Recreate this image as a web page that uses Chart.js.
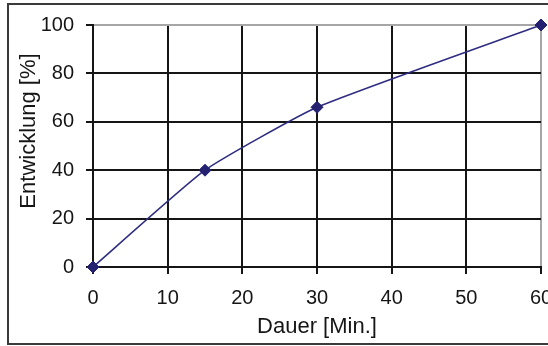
<!DOCTYPE html>
<html lang="de">
<head>
<meta charset="utf-8">
<title>Entwicklung über die Dauer</title>
<script src="https://cdn.jsdelivr.net/npm/chart.js@4/dist/chart.umd.min.js"></script>
<style>
  body { margin: 0; background: #fff; overflow: hidden; }
  canvas { display: block; }
</style>
</head>
<body>
<canvas id="entwicklungChart" width="548" height="346"></canvas>
<script>
// Messwerte: Dauer in Minuten, Entwicklung in Prozent
const dauer = [0, 15, 30, 60];
const entwicklung = [0, 40, 66, 100];

// Achsenbeschriftung
const xTicks = [0, 10, 20, 30, 40, 50, 60];
const yTicks = [0, 20, 40, 60, 80, 100];
const xTitel = "Dauer [Min.]";
const yTitel = "Entwicklung [%]";

const textFarbe = "#151515";
const linienFarbe = "#2e2c80";
const punktFarbe = "#232170";

// Rahmen um das ganze Diagramm
const rahmen = {
  id: "rahmen",
  beforeDraw(chart) {
    const c = chart.ctx;
    c.save();
    c.strokeStyle = "#3a3a3a";
    c.lineWidth = 2;
    c.strokeRect(8, 4, 600, 340);
    c.restore();
  },
  afterDraw(chart) {
    // y-Achsentitel, gedreht
    const a = chart.chartArea;
    const c = chart.ctx;
    c.save();
    c.fillStyle = textFarbe;
    c.font = "22px 'Liberation Sans', Arial, sans-serif";
    c.textAlign = "center";
    c.textBaseline = "middle";
    c.translate(a.left - 64, (a.top + a.bottom) / 2 - 15);
    c.rotate(-Math.PI / 2);
    c.fillText(yTitel, 0, 0);
    c.restore();
  },
};

function gitterFarbe(letzterWert) {
  return (ctx) => (ctx.tick && ctx.tick.value === letzterWert ? "#a6a6a6" : "#151515");
}

const ctx = document.getElementById("entwicklungChart").getContext("2d");

new Chart(ctx, {
  type: "scatter",
  data: {
    datasets: [
      {
        label: yTitel,
        data: dauer.map((x, i) => ({ x: x, y: entwicklung[i] })),
        showLine: true,
        borderColor: linienFarbe,
        borderWidth: 1.6,
        tension: 0.15,
        pointStyle: "rectRot",
        pointRadius: 6,
        pointBackgroundColor: punktFarbe,
        pointBorderColor: punktFarbe,
        pointBorderWidth: 1,
        clip: false,
      },
    ],
  },
  options: {
    responsive: false,
    animation: false,
    layout: { padding: { left: 0, right: 7, top: 25, bottom: 0 } },
    plugins: {
      legend: { display: false },
      tooltip: { enabled: false },
    },
    scales: {
      x: {
        type: "linear",
        min: 0,
        max: 60,
        afterBuildTicks: (s) => { s.ticks = xTicks.map((v) => ({ value: v })); },
        afterFit: (s) => { s.height = 79; s.paddingLeft = 0; s.paddingRight = 0; },
        grid: {
          color: gitterFarbe(60),
          lineWidth: 2,
          tickColor: "#151515",
          tickLength: 7,
        },
        border: { color: "#151515", width: 2 },
        ticks: {
          color: textFarbe,
          padding: 12,
          maxRotation: 0,
          font: { family: "'Liberation Sans', Arial, sans-serif", size: 20 },
        },
        title: {
          display: true,
          text: xTitel,
          color: textFarbe,
          padding: { top: 0, bottom: 6 },
          font: { family: "'Liberation Sans', Arial, sans-serif", size: 22 },
        },
      },
      y: {
        min: 0,
        max: 100,
        afterBuildTicks: (s) => { s.ticks = yTicks.map((v) => ({ value: v })); },
        afterFit: (s) => { s.width = 93; s.paddingTop = 0; s.paddingBottom = 0; },
        grid: {
          color: gitterFarbe(100),
          lineWidth: 2,
          tickColor: "#151515",
          tickLength: 7,
        },
        border: { color: "#151515", width: 2 },
        ticks: {
          color: textFarbe,
          padding: 12,
          font: { family: "'Liberation Sans', Arial, sans-serif", size: 20 },
        },
      },
    },
  },
  plugins: [rahmen],
});
</script>
</body>
</html>
